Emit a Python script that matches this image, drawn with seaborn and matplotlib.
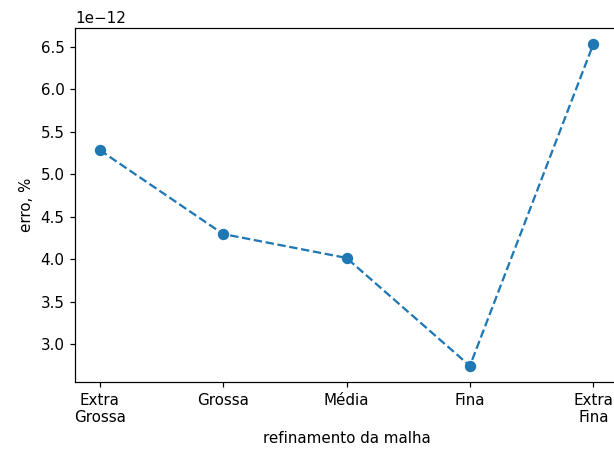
import matplotlib

matplotlib.use("Agg")

import matplotlib.pyplot as plt
import seaborn as sns
import pandas as pd

# Mesh refinement levels and error values
malhas = ["Extra\nGrossa", "Grossa", "Média", "Fina", "Extra\nFina"]
erros = [5.286e-12, 4.296e-12, 4.014e-12, 2.741e-12, 6.535e-12]

df = pd.DataFrame({"malha": malhas, "erro": erros})

DPI = 109
fig = plt.figure(figsize=(614 / DPI, 455 / DPI), dpi=DPI)
# axes extend slightly past the right edge, like the cropped reference
ax = fig.add_axes([75 / 614, 73 / 455, 543 / 614, 354 / 455])

sns.lineplot(
    data=df,
    x="malha",
    y="erro",
    ax=ax,
    color="#1f77b4",
    linestyle="--",
    marker="o",
    markersize=6.5,
    markeredgecolor="#1f77b4",
    markeredgewidth=1,
    linewidth=1.5,
)

ax.set_xlabel("refinamento da malha")
ax.set_ylabel("erro, %")

fig.savefig("out.png", dpi=DPI)
plt.close(fig)
